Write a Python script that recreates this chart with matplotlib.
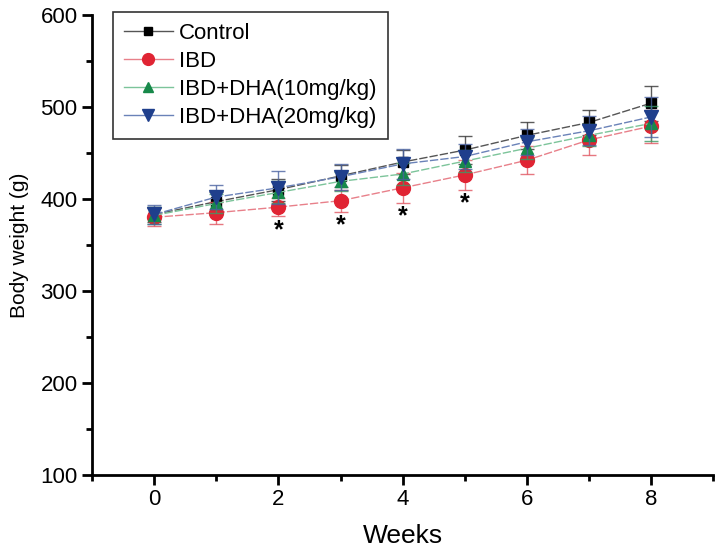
import matplotlib
matplotlib.use("Agg")
import matplotlib.pyplot as plt
from matplotlib.ticker import MultipleLocator

plt.rcParams['font.family'] = ['Liberation Sans', 'DejaVu Sans']

weeks = [0, 1, 2, 3, 4, 5, 6, 7, 8]
control = [383, 397, 410, 425, 440, 453, 469, 483, 504]
control_err = [8, 10, 12, 12, 13, 15, 15, 14, 19]
ibd = [380, 385, 391, 398, 412, 426, 442, 464, 479]
ibd_err = [10, 12, 10, 12, 16, 16, 15, 16, 18]
dha10 = [382, 395, 407, 419, 427, 441, 455, 469, 482]
dha10_err = [9, 10, 12, 10, 12, 12, 12, 12, 19]
dha20 = [383, 402, 412, 424, 438, 446, 462, 474, 489]
dha20_err = [10, 13, 18, 14, 16, 14, 14, 16, 22]
star_weeks = [2, 3, 4, 5]

labels = ['Control', 'IBD', 'IBD+DHA(10mg/kg)', 'IBD+DHA(20mg/kg)']

fig = plt.figure(figsize=(7.2, 5.49), dpi=100)
ax = fig.add_axes([0.128, 0.135, 0.8625, 0.838])

series = [
    (control, control_err, 's', 7, '#000000', '#555555', '#333333'),
    (ibd, ibd_err, 'o', 10, '#e02433', '#e8808a', '#e05560'),
    (dha10, dha10_err, '^', 9, '#17894a', '#7cc49a', '#3d9a66'),
    (dha20, dha20_err, 'v', 10, '#1f3f8c', '#6a82b8', '#4a62a0'),
]

for (y, e, m, ms, mc, lc, ec), lab in zip(series, labels):
    ax.errorbar(weeks, y, yerr=e, fmt='none', ecolor=ec, elinewidth=1.0,
                capsize=5, capthick=1.0, alpha=0.8)
    ax.plot(weeks, y, color=lc, linewidth=1.0, linestyle=(0, (6, 1.5)))
    ax.plot(weeks, y, linestyle='none', marker=m, markersize=ms,
            markerfacecolor=mc, markeredgecolor=mc)

handles = []
for (y, e, m, ms, mc, lc, ec), lab in zip(series, labels):
    h, = ax.plot([], [], color=lc, linewidth=1.0, marker=m, markersize=ms * 0.85,
                 markerfacecolor=mc, markeredgecolor=mc, label=lab)
    handles.append(h)

leg = ax.legend(handles=handles, loc='upper left', bbox_to_anchor=(0.033, 1.007),
                borderaxespad=0, fontsize=16, frameon=True, fancybox=False,
                edgecolor='black', handlelength=2.2, labelspacing=0.32,
                handletextpad=0.3, borderpad=0.5)
leg.get_frame().set_linewidth(1.2)

for w in star_weeks:
    i = weeks.index(w)
    ax.text(w, ibd[i] - ibd_err[i] - 15, '*', ha='center', va='center',
            fontsize=18, color='black', fontweight='bold')

ax.set_xlim(-1, 9)
ax.set_ylim(100, 600)
ax.xaxis.set_major_locator(MultipleLocator(2))
ax.xaxis.set_minor_locator(MultipleLocator(1))
ax.yaxis.set_major_locator(MultipleLocator(100))
ax.yaxis.set_minor_locator(MultipleLocator(50))

for s in ['top', 'right']:
    ax.spines[s].set_visible(False)
for s in ['left', 'bottom']:
    ax.spines[s].set_linewidth(2.0)

ax.tick_params(which='major', direction='out', length=7, width=2, labelsize=16)
ax.tick_params(which='minor', direction='out', length=4, width=2)

ax.set_xlabel('Weeks', fontsize=19, labelpad=10)
ax.set_ylabel('Body weight (g)', fontsize=15, labelpad=8)

fig.savefig('out.png', dpi=100)
